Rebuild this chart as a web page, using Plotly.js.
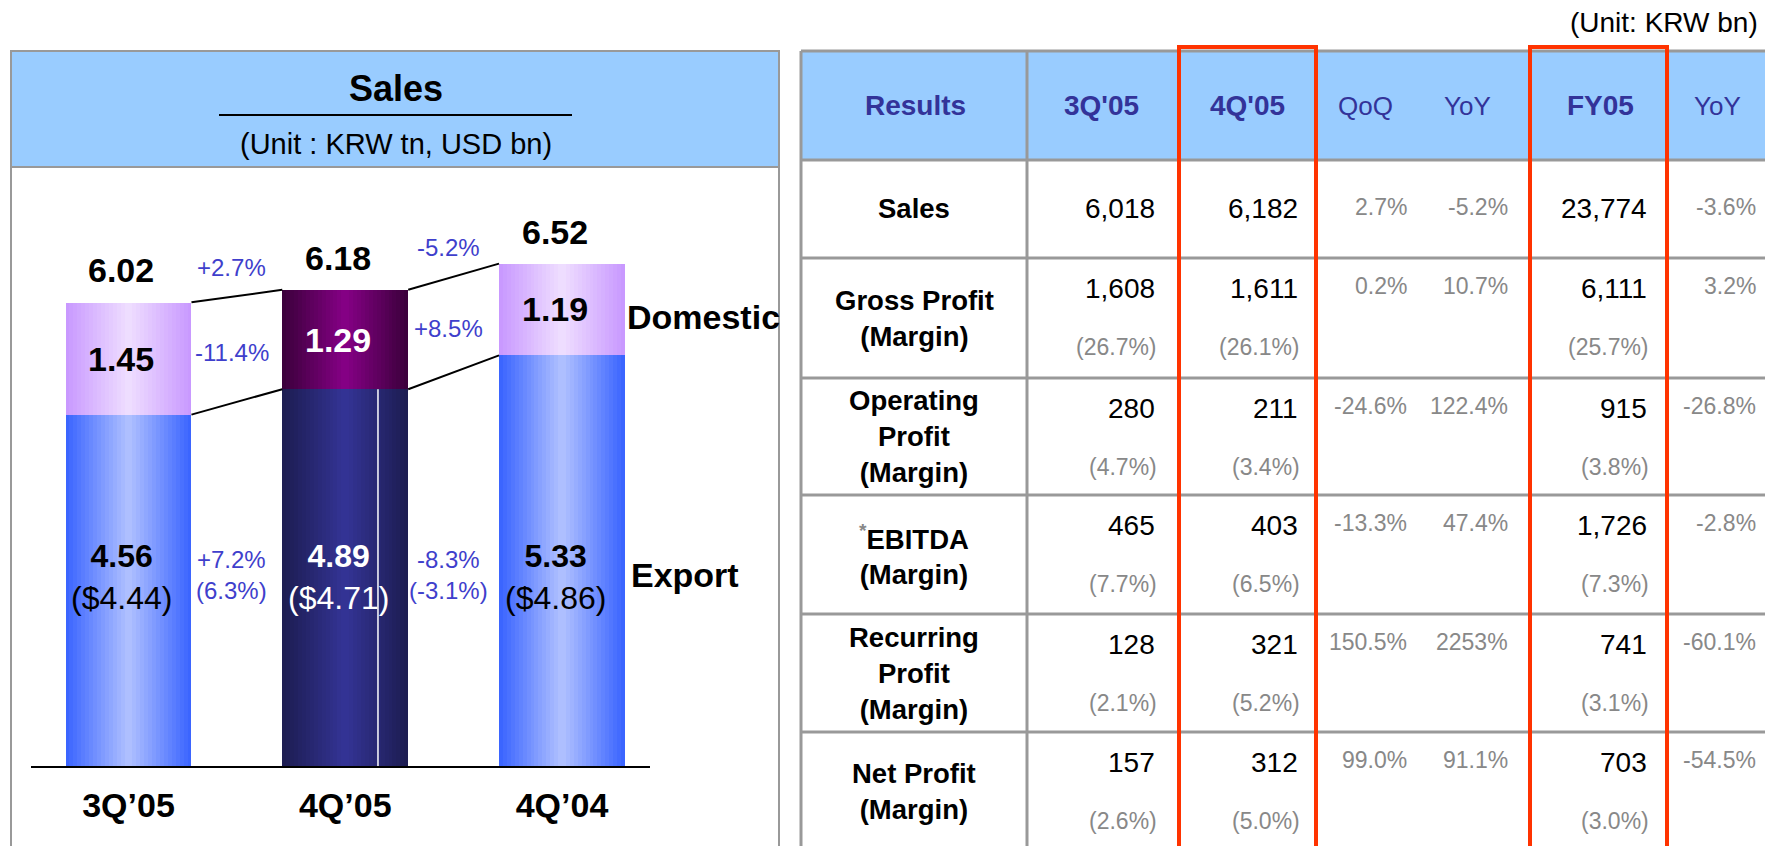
<!DOCTYPE html>
<html>
<head>
<meta charset="utf-8">
<script src="https://cdn.plot.ly/plotly-3.0.1.min.js"></script>
<style>html,body{margin:0;padding:0;background:#ffffff;overflow:hidden;}</style>
</head>
<body>
<div id="chart" style="width:1765px;height:846px;"></div>
<script>
// ---------------- DATA ----------------
const categories = ["3Q\u201905", "4Q\u201905", "4Q\u201904"];
const exportSales = [4.56, 4.89, 5.33];      // KRW tn
const domesticSales = [1.45, 1.29, 1.19];    // KRW tn
const totalSales = [6.02, 6.18, 6.52];       // KRW tn
const exportUSD = [4.44, 4.71, 4.86];        // USD bn
const totalChange = ["+2.7%", "-5.2%"];
const domesticChange = ["-11.4%", "+8.5%"];
const exportChange = ["+7.2%", "-8.3%"];
const exportUSDChange = ["(6.3%)", "(-3.1%)"];

const tableHeaders = ["Results", "3Q'05", "4Q'05", "QoQ", "YoY", "FY05", "YoY"];
const rowLabels = ["Sales", "Gross Profit\n(Margin)", "Operating\nProfit\n(Margin)", "*EBITDA\n(Margin)", "Recurring\nProfit\n(Margin)", "Net Profit\n(Margin)"];
const q3_05 = [6018, 1608, 280, 465, 128, 157];
const q3_05Margin = [null, 26.7, 4.7, 7.7, 2.1, 2.6];
const q4_05 = [6182, 1611, 211, 403, 321, 312];
const q4_05Margin = [null, 26.1, 3.4, 6.5, 5.2, 5.0];
const qoqChange = [2.7, 0.2, -24.6, -13.3, 150.5, 99.0];
const yoyChange = [-5.2, 10.7, 122.4, 47.4, 2253, 91.1];
const fy05 = [23774, 6111, 915, 1726, 741, 703];
const fy05Margin = [null, 25.7, 3.8, 7.3, 3.1, 3.0];
const fy05YoY = [-3.6, 3.2, -26.8, -2.8, -60.1, -54.5];

// ---------------- STYLE / LAYOUT ----------------
const W = 1765, H = 846;
const fx = x => x / W;
const fy = y => 1 - y / H;
const FONT = "Liberation Sans, Arial, Helvetica, sans-serif";
const BLUE_TXT = "#3F3FCC";
const GRAY = "#999999";
const RED = "#FF3300";
const HEAD_FILL = "#99CCFF";
const HEAD_TXT = "#333399";
const SUB_TXT = "#888888";

const barW = 0.581;
const exportEdge = ["#3B65FF", "#1D1D52", "#3B65FF"];
const exportCenter = ["#AEBFFF", "#333394", "#AEBFFF"];
const domEdge = ["#C999FF", "#3C003C", "#C999FF"];
const domCenter = ["#EEDDFF", "#840084", "#EEDDFF"];
const labelColor = ["#000000", "#FFFFFF", "#000000"];

function hex2rgb(h) { return [1, 3, 5].map(i => parseInt(h.substr(i, 2), 16)); }
function mix(a, b, t) {
  const A = hex2rgb(a), B = hex2rgb(b);
  return "rgb(" + A.map((v, i) => Math.round(v + (B[i] - v) * t)).join(",") + ")";
}

const traces = [];
const N = 16;
const xs = categories.map((c, i) => i);
for (let k = 0; k < N; k++) {
  const t = k / (N - 1);
  const wk = barW * (1 - k / N);
  traces.push({
    type: "bar", x: xs, y: exportSales, width: xs.map(() => wk),
    marker: { color: xs.map(i => mix(exportEdge[i], exportCenter[i], t)), line: { width: 0 } },
    hoverinfo: "skip", showlegend: false
  });
  traces.push({
    type: "bar", x: xs, y: domesticSales, base: exportSales, width: xs.map(() => wk),
    marker: { color: xs.map(i => mix(domEdge[i], domCenter[i], t)), line: { width: 0 } },
    hoverinfo: "skip", showlegend: false
  });
}
// connector lines between bars
for (let i = 0; i < categories.length - 1; i++) {
  [totalSales, exportSales].forEach(arr => {
    traces.push({
      type: "scatter", mode: "lines",
      x: [i + barW / 2, i + 1 - barW / 2], y: [arr[i], arr[i + 1]],
      line: { color: "#000000", width: 2 }, hoverinfo: "skip", showlegend: false
    });
  });
}

const annotations = [];
function ann(o) {
  annotations.push(Object.assign({ showarrow: false, xanchor: "center", yanchor: "middle",
    font: { family: FONT, size: 24, color: "#000" } }, o));
}
// bar labels
xs.forEach(i => {
  ann({ x: i, y: totalSales[i], xref: "x", yref: "y", yshift: 32, xshift: -7,
        text: "<b>" + totalSales[i].toFixed(2) + "</b>", font: { family: FONT, size: 34, color: "#000" } });
  ann({ x: i, y: exportSales[i] + domesticSales[i] / 2, xref: "x", yref: "y", xshift: -7,
        text: "<b>" + domesticSales[i].toFixed(2) + "</b>", font: { family: FONT, size: 34, color: labelColor[i] } });
  ann({ x: i, y: 2.453, xref: "x", yref: "y", xshift: -7,
        text: "<b>" + exportSales[i].toFixed(2) + "</b><br>($" + exportUSD[i].toFixed(2) + ")",
        font: { family: FONT, size: 32, color: labelColor[i] } });
});
// change labels between bars
for (let i = 0; i < categories.length - 1; i++) {
  const tMid = (totalSales[i] + totalSales[i + 1]) / 2;
  const eMid = (exportSales[i] + exportSales[i + 1]) / 2;
  const f = { family: FONT, size: 24, color: BLUE_TXT };
  ann({ x: i + 0.5, y: tMid, xref: "x", yref: "y", yshift: 29, xshift: -5, text: totalChange[i], font: f });
  ann({ x: i + 0.5, y: (tMid + eMid) / 2, xref: "x", yref: "y", yshift: -4, xshift: -5, text: domesticChange[i], font: f });
  ann({ x: i + 0.5, y: 2.479, xref: "x", yref: "y", xshift: -5, text: exportChange[i] + "<br>" + exportUSDChange[i], font: f });
}
// series names
const last = categories.length - 1;
ann({ x: last + barW / 2, y: exportSales[last] + domesticSales[last] / 2, xref: "x", yref: "y", xanchor: "left",
      yshift: -8, text: "<b>Domestic</b>", font: { family: FONT, size: 34, color: "#000" } });
ann({ x: last + barW / 2, y: 2.479, xref: "x", yref: "y", xanchor: "left", xshift: 4,
      text: "<b>Export</b>", font: { family: FONT, size: 34, color: "#000" } });
// left panel header
ann({ x: fx(396), y: fy(88), xref: "paper", yref: "paper", text: "<b>Sales</b>", font: { family: FONT, size: 36, color: "#000" } });
ann({ x: fx(396), y: fy(144), xref: "paper", yref: "paper", text: "(Unit : KRW tn, USD bn)", font: { family: FONT, size: 29, color: "#000" } });
ann({ x: fx(1760), y: fy(22), xref: "paper", yref: "paper", xanchor: "right", text: "(Unit: KRW bn)", font: { family: FONT, size: 28, color: "#000" } });

// ---------------- TABLE ----------------
const tblColEdges = [801, 1027, 1179, 1316, 1530, 1667, 1780];
const tblRowEdges = [51, 160, 258, 378, 495, 614, 732, 870];
const headerCenters = [915, 1101, 1247, 1365, 1467, 1600, 1717];
const headerBold = [true, true, true, false, false, true, false];
const highlightCols = [[1179, 1316], [1530, 1667]];
const fmtNum = v => v.toLocaleString("en-US");
const fmtPct = v => (Math.abs(v) >= 1000 ? v.toFixed(0) : v.toFixed(1)) + "%";
const fmtMargin = v => "(" + v.toFixed(1) + "%)";
const valueCols = [
  { vals: q3_05, margins: q3_05Margin, right: 1157, kind: "main" },
  { vals: q4_05, margins: q4_05Margin, right: 1300, kind: "main" },
  { vals: qoqChange, right: 1409, kind: "chg" },
  { vals: yoyChange, right: 1510, kind: "chg" },
  { vals: fy05, margins: fy05Margin, right: 1649, kind: "main" },
  { vals: fy05YoY, right: 1758, kind: "chg" }
];

tableHeaders.forEach((h, j) => {
  ann({ x: fx(headerCenters[j]), y: fy(106), xref: "paper", yref: "paper",
        text: headerBold[j] ? "<b>" + h + "</b>" : h,
        font: { family: FONT, size: headerBold[j] ? 28 : 26, color: HEAD_TXT } });
});
rowLabels.forEach((lab, r) => {
  const top = tblRowEdges[r + 1], bot = tblRowEdges[r + 2];
  const mid = r === rowLabels.length - 1 ? top + 59 : (top + bot) / 2;
  let txt = lab.replace(/\n/g, "<br>");
  if (txt.startsWith("*")) txt = "<span style='color:" + SUB_TXT + "'><sup>*</sup></span>" + txt.slice(1);
  ann({ x: fx((tblColEdges[0] + tblColEdges[1]) / 2), y: fy(mid), xref: "paper", yref: "paper",
        text: "<b>" + txt + "</b>", font: { family: FONT, size: 27.5, color: "#000" } });
  valueCols.forEach(col => {
    const single = r === 0;
    if (col.kind === "main") {
      ann({ x: fx(col.right), y: fy(single ? 209 : top + 30), xref: "paper", yref: "paper", xanchor: "right",
            text: fmtNum(col.vals[r]), font: { family: FONT, size: 28, color: "#000" } });
      if (col.margins[r] !== null) {
        ann({ x: fx(col.right + 2), y: fy(top + 89), xref: "paper", yref: "paper", xanchor: "right",
              text: fmtMargin(col.margins[r]), font: { family: FONT, size: 23, color: SUB_TXT } });
      }
    } else {
      ann({ x: fx(col.right), y: fy(single ? 207 : top + 28), xref: "paper", yref: "paper", xanchor: "right",
            text: fmtPct(col.vals[r]), font: { family: FONT, size: 23, color: SUB_TXT } });
    }
  });
});

// ---------------- SHAPES ----------------
const shapes = [];
function rect(x0, y0, x1, y1, o) {
  shapes.push(Object.assign({ type: "rect", xref: "paper", yref: "paper", x0: fx(x0), x1: fx(x1), y0: fy(y1), y1: fy(y0), layer: "below" }, o));
}
function line(x0, y0, x1, y1, o) {
  shapes.push(Object.assign({ type: "line", xref: "paper", yref: "paper", x0: fx(x0), x1: fx(x1), y0: fy(y0), y1: fy(y1), layer: "above" }, o));
}
// left panel
rect(11, 51, 779, 167, { fillcolor: HEAD_FILL, line: { width: 0 } });
rect(11, 51, 779, 880, { fillcolor: "rgba(0,0,0,0)", line: { color: GRAY, width: 2 } });
line(11, 167, 779, 167, { line: { color: GRAY, width: 2 }, layer: "below" });
line(219, 115, 572, 115, { line: { color: "#000", width: 2 } });
// thin white streak in the 4Q'05 export bar
shapes.push({ type: "line", xref: "x", yref: "y", x0: 1 + 0.151, x1: 1 + 0.151, y0: 0, y1: exportSales[1],
              line: { color: "#FFFFFF", width: 1.5 }, layer: "above" });
// table
rect(tblColEdges[0], tblRowEdges[0], tblColEdges[tblColEdges.length - 1], tblRowEdges[1], { fillcolor: HEAD_FILL, line: { width: 0 } });
tblColEdges.slice(0, -1).forEach(x => line(x, tblRowEdges[0], x, 880, { line: { color: GRAY, width: 3 }, layer: "below" }));
tblRowEdges.slice(0, -1).forEach(y => line(tblColEdges[0], y, 1780, y, { line: { color: GRAY, width: 3 }, layer: "below" }));
highlightCols.forEach(c => {
  rect(c[0], 47, c[1], 880, { fillcolor: "rgba(0,0,0,0)", line: { color: RED, width: 4 }, layer: "above" });
});

const layout = {
  width: W, height: H,
  margin: { l: 0, r: 0, t: 0, b: 0, pad: 0 },
  paper_bgcolor: "#FFFFFF", plot_bgcolor: "rgba(0,0,0,0)",
  barmode: "overlay", bargap: 0,
  showlegend: false,
  font: { family: FONT },
  xaxis: {
    domain: [fx(31), fx(650)], range: [-0.4498, 2.406],
    tickvals: xs, ticktext: categories.map(c => "<b>" + c + "</b>"),
    tickfont: { family: FONT, size: 34, color: "#000" },
    ticks: "", ticklabelstandoff: 8,
    showgrid: false, zeroline: false, showline: true, linecolor: "#000", linewidth: 2, fixedrange: true
  },
  yaxis: {
    domain: [fy(766), fy(149.6)], range: [0, 8],
    showgrid: false, zeroline: false, showline: false, showticklabels: false, ticks: "", fixedrange: true
  },
  annotations: annotations,
  shapes: shapes
};

Plotly.newPlot("chart", traces, layout, { displayModeBar: false, staticPlot: true, responsive: false });
</script>
</body>
</html>
